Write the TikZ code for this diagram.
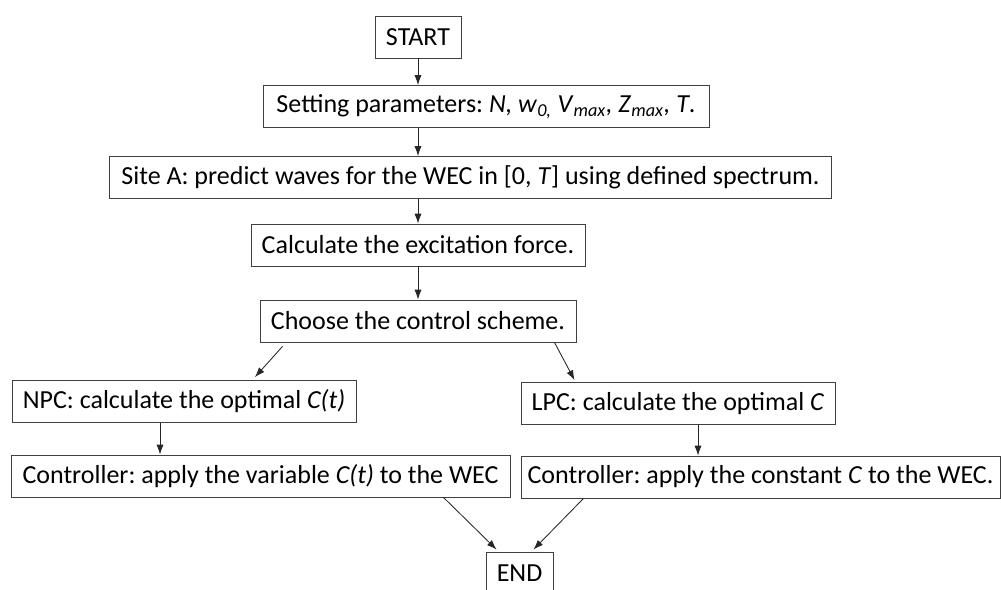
\documentclass[tikz,border=0pt]{standalone}
\usepackage{fontspec}
\setmainfont{Carlito}
\usepackage{tikz}
\usepackage{xcolor}
\usetikzlibrary{arrows.meta,calc}
\frenchspacing
\tikzset{
    flow-box/.style = {draw=black!75, fill=white, line width=0.6pt, rectangle, minimum height=1.05cm, inner sep=3pt, font=\fontsize{18.5}{22}\selectfont},
    flow-arrow/.style = {draw=black!85, line width=0.6pt, -{Latex[length=7pt,width=5pt]}},
}

\begin{document}
\begin{tikzpicture}[x=0.025cm, y=-0.025cm]
\useasboundingbox (0,0) rectangle (1001,590);
\node[flow-box, minimum width=2.15cm] (start) at (418,37) {START};
\node[flow-box, minimum width=11.15cm] (setting) at (486,106.5) {Setting parameters: \textit{N,} \textit{w}\textsubscript{\textit{0,}} \textit{V}\textsubscript{\textit{max}}\textit{,} \textit{Z}\textsubscript{\textit{max}}\textit{,} \textit{T}.};
\node[flow-box, minimum width=18.025cm] (site) at (470.5,177.5) {Site A: predict waves for the WEC in [0, \textit{T}] using defined spectrum.};
\node[flow-box, minimum width=8.35cm] (force) at (418,245) {Calculate the excitation force.};
\node[flow-box, minimum width=7.9cm] (choose) at (418,321) {Choose the control scheme.};
\node[flow-box, minimum width=8.6cm] (npc) at (184,401.5) {NPC: calculate the optimal \textit{C(t)}};
\node[flow-box, minimum width=7.85cm] (lpc) at (678,403.5) {LPC: calculate the optimal \textit{C}};
\node[flow-box, minimum width=12.475cm] (ctrl-var) at (260.5,476) {Controller: apply the variable \textit{C(t)} to the WEC};
\node[flow-box, minimum width=11.975cm] (ctrl-const) at (760.5,477) {Controller: apply the constant \textit{C} to the WEC.};
\node[flow-box, minimum width=1.675cm] (end) at (519.5,573) {END};

\coordinate (npc-out) at ($(npc.south)+(-24,0)$);
\coordinate (lpc-out) at ($(lpc.south)+(20,0)$);

\draw[flow-arrow] (start) -- (start |- setting.north);
\draw[flow-arrow] (start |- setting.south) -- (start |- site.north);
\draw[flow-arrow] (start |- site.south) -- (force);
\draw[flow-arrow] (force) -- (choose);
\draw[flow-arrow] ($(choose.south west)+(23,4)$) -- ($(npc.north)+(71,-3)$);
\draw[flow-arrow] ($(choose.south east)+(-22,0)$) -- ($(lpc.north west)+(54,-2)$);
\draw[flow-arrow] (npc-out) -- (npc-out |- ctrl-var.north);
\draw[flow-arrow] (lpc-out) -- (lpc-out |- ctrl-const.north);
\draw[flow-arrow] ($(ctrl-var.south east)+(-67,0)$) -- ($(end.north west)+(11,-2)$);
\draw[flow-arrow] ($(ctrl-const.south west)+(63,0)$) -- ($(end.north east)+(-20,-2)$);
\end{tikzpicture}
\end{document}
